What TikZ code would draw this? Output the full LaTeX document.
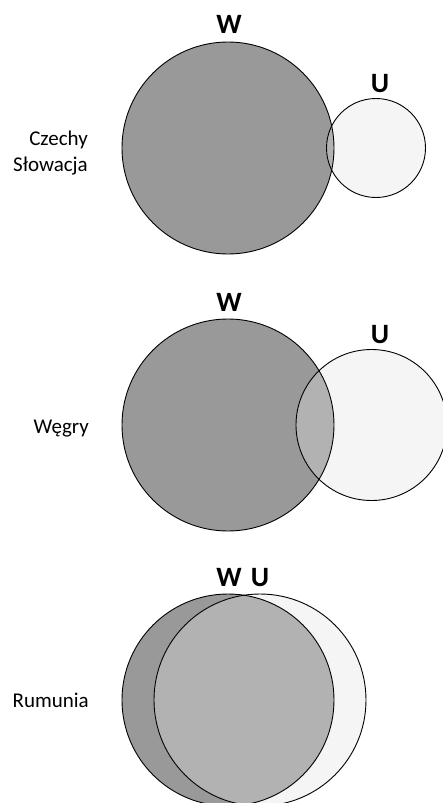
\documentclass[tikz,border=0pt]{standalone}
\usepackage{fontspec}
\setmainfont{Carlito}
\usetikzlibrary{positioning}
\begin{document}
\begin{tikzpicture}[x=1pt,y=-1pt,
  kreis/.style={draw=black,line width=0.9pt},
  wfarbe/.style={fill=gray!80},
  ufarbe/.style={fill=gray!8},
  schnitt/.style={fill=gray!60},
  buchstabe/.style={font=\fontsize{28}{28}\selectfont\bfseries,anchor=base,inner sep=0pt},
  land/.style={font=\fontsize{21}{25}\selectfont,anchor=base east,inner sep=0pt}]
\useasboundingbox (0,0) rectangle (443,803);
\clip (0,0) rectangle (443,803);
%Mittelpunkte und Radien: yMitte/rW/xU/rU
\pgfmathsetmacro{\xW}{228}
\foreach \ym/\rW/\xU/\rU in {148/106/376/49.5,425/106/371.5/75.5,700/106/260/106}{
  \fill[wfarbe] (\xW,\ym) circle (\rW);
  \fill[ufarbe] (\xU,\ym) circle (\rU);
  \begin{scope}
    \clip (\xW,\ym) circle (\rW);
    \fill[schnitt] (\xU,\ym) circle (\rU);
  \end{scope}
  \draw[kreis] (\xW,\ym) circle (\rW);
  \draw[kreis] (\xU,\ym) circle (\rU);
}
%Beschriftung der Kreise
\node[buchstabe] (w1) at (229,33) {W};
\node[buchstabe] (u1) at (380,92) {U};
\node[buchstabe] (w2) at (229,311) {W};
\node[buchstabe] (u2) at (380,343) {U};
\node[buchstabe] (w3) at (229,586) {W};
\node[buchstabe] (u3) at (260,586) {U};
%Laender
\node[land] (czechy) at (88,145) {Czechy};
\node[land] (slowacja) at (88,171) {Słowacja};
\node[land] (wegry) at (89,433) {Węgry};
\node[land] (rumunia) at (89,707) {Rumunia};
\end{tikzpicture}
\end{document}
